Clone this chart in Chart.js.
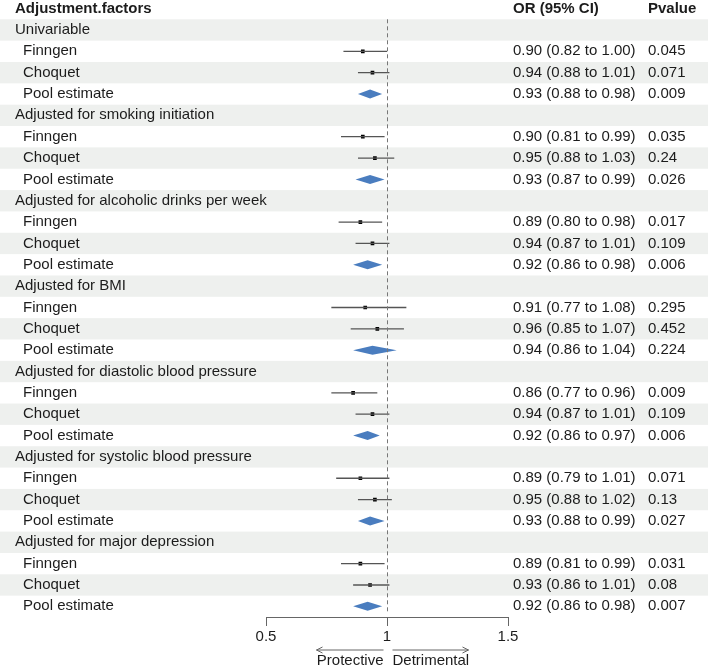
<!DOCTYPE html>
<html>
<head>
<meta charset="utf-8">
<script src="https://cdn.jsdelivr.net/npm/chart.js@4.4.1/dist/chart.umd.min.js"></script>
<style>
  html, body { margin: 0; padding: 0; background: #fff; }
  #wrap { width: 708px; height: 670px; }
</style>
</head>
<body>
<div id="wrap"><canvas id="forest" width="708" height="670"></canvas></div>
<script>
// adjustment groups, each has Finngen / Choquet / Pool estimate rows
const groups = [
    'Univariable',
    'Adjusted for smoking initiation',
    'Adjusted for alcoholic drinks per week',
    'Adjusted for BMI',
    'Adjusted for diastolic blood pressure',
    'Adjusted for systolic blood pressure',
    'Adjusted for major depression'
];
const sources = ['Finngen', 'Choquet', 'Pool estimate'];

const finngenOR = [0.90, 0.90, 0.89, 0.91, 0.86, 0.89, 0.89];
const finngenLo = [0.82, 0.81, 0.80, 0.77, 0.77, 0.79, 0.81];
const finngenHi = [1.00, 0.99, 0.98, 1.08, 0.96, 1.01, 0.99];
const finngenP  = ['0.045', '0.035', '0.017', '0.295', '0.009', '0.071', '0.031'];

const choquetOR = [0.94, 0.95, 0.94, 0.96, 0.94, 0.95, 0.93];
const choquetLo = [0.88, 0.88, 0.87, 0.85, 0.87, 0.88, 0.86];
const choquetHi = [1.01, 1.03, 1.01, 1.07, 1.01, 1.02, 1.01];
const choquetP  = ['0.071', '0.24', '0.109', '0.452', '0.109', '0.13', '0.08'];

const poolOR = [0.93, 0.93, 0.92, 0.94, 0.92, 0.93, 0.92];
const poolLo = [0.88, 0.87, 0.86, 0.86, 0.86, 0.88, 0.86];
const poolHi = [0.98, 0.99, 0.98, 1.04, 0.97, 0.99, 0.98];
const poolP  = ['0.009', '0.026', '0.006', '0.224', '0.006', '0.027', '0.007'];

const xTicks = [0.5, 1, 1.5];

const FONT = '"Liberation Sans", Arial, sans-serif';
const TEXT = '#1c1c1c';

// build the table rows
const rows = [];
groups.forEach((g, i) => {
    rows.push({ label: g, indent: false });
    rows.push({ label: sources[0], indent: true, kind: 'study', or: finngenOR[i], lo: finngenLo[i], hi: finngenHi[i], p: finngenP[i] });
    rows.push({ label: sources[1], indent: true, kind: 'study', or: choquetOR[i], lo: choquetLo[i], hi: choquetHi[i], p: choquetP[i] });
    rows.push({ label: sources[2], indent: true, kind: 'pool', or: poolOR[i], lo: poolLo[i], hi: poolHi[i], p: poolP[i] });
});
const nRows = rows.length;

const ciData = [];
const pointData = [];
rows.forEach((r, idx) => {
    if (r.kind === 'study') {
        ciData.push({ x: r.lo, y: idx }, { x: r.hi, y: idx }, { x: null, y: null });
        pointData.push({ x: r.or, y: idx });
    }
});

function fmtCI(r) {
    return r.or.toFixed(2) + ' (' + r.lo.toFixed(2) + ' to ' + r.hi.toFixed(2) + ')';
}

const tablePlugin = {
    id: 'table',
    beforeDraw(chart) {
        const ctx = chart.ctx;
        const y = chart.scales.y;
        const h = Math.abs(y.getPixelForValue(1) - y.getPixelForValue(0));
        ctx.save();
        ctx.fillStyle = '#fff';
        ctx.fillRect(0, 0, chart.width, chart.height);
        ctx.fillStyle = '#eef0ee';
        for (let i = 0; i < nRows; i += 2) {
            const cy = y.getPixelForValue(i);
            ctx.fillRect(0, cy - h / 2, chart.width, h);
        }
        ctx.restore();
    },
    afterDatasetsDraw(chart) {
        const ctx = chart.ctx;
        const x = chart.scales.x;
        const y = chart.scales.y;
        ctx.save();
        // pooled diamonds
        ctx.fillStyle = '#4a7dbf';
        rows.forEach((r, idx) => {
            if (r.kind !== 'pool') return;
            const cy = y.getPixelForValue(idx);
            ctx.beginPath();
            ctx.moveTo(x.getPixelForValue(r.lo), cy);
            ctx.lineTo(x.getPixelForValue(r.or), cy - 4.5);
            ctx.lineTo(x.getPixelForValue(r.hi), cy);
            ctx.lineTo(x.getPixelForValue(r.or), cy + 4.5);
            ctx.closePath();
            ctx.fill();
        });
        // reference line at OR = 1
        const x1 = Math.round(x.getPixelForValue(1)) + 0.5;
        ctx.strokeStyle = '#777';
        ctx.lineWidth = 1;
        ctx.setLineDash([4, 3]);
        ctx.beginPath();
        ctx.moveTo(x1, chart.chartArea.top);
        ctx.lineTo(x1, y.getPixelForValue(nRows - 0.75));
        ctx.stroke();
        ctx.setLineDash([]);

        // text columns
        ctx.fillStyle = TEXT;
        ctx.textBaseline = 'middle';
        const headY = y.getPixelForValue(-1);
        ctx.font = 'bold 15px ' + FONT;
        ctx.fillText('Adjustment.factors', 15, headY);
        ctx.fillText('OR (95% CI)', 513, headY);
        ctx.fillText('Pvalue', 648, headY);
        ctx.font = '15px ' + FONT;
        rows.forEach((r, idx) => {
            const cy = y.getPixelForValue(idx);
            ctx.fillText(r.label, r.indent ? 23 : 15, cy);
            if (r.kind) {
                ctx.fillText(fmtCI(r), 513, cy);
                ctx.fillText(r.p, 648, cy);
            }
        });

        // direction arrows under the axis
        const ay = 650;
        ctx.strokeStyle = '#666';
        ctx.lineWidth = 1;
        ctx.beginPath();
        ctx.moveTo(x1 - 4, ay); ctx.lineTo(x1 - 71, ay);
        ctx.moveTo(x1 - 65, ay - 3); ctx.lineTo(x1 - 71, ay); ctx.lineTo(x1 - 65, ay + 3);
        ctx.moveTo(x1 + 5, ay); ctx.lineTo(x1 + 81, ay);
        ctx.moveTo(x1 + 75, ay - 3); ctx.lineTo(x1 + 81, ay); ctx.lineTo(x1 + 75, ay + 3);
        ctx.stroke();
        ctx.fillStyle = TEXT;
        ctx.textAlign = 'right';
        ctx.fillText('Protective', x1 - 4, 661);
        ctx.textAlign = 'left';
        ctx.fillText('Detrimental', x1 + 5, 661);
        ctx.restore();
    }
};

new Chart(document.getElementById('forest'), {
    type: 'scatter',
    data: {
        datasets: [
            {
                label: 'CI',
                data: ciData,
                showLine: true,
                spanGaps: false,
                borderColor: '#555',
                borderWidth: 1.3,
                pointRadius: 0
            },
            {
                label: 'OR',
                data: pointData,
                pointStyle: 'rect',
                pointRadius: 2.6,
                backgroundColor: '#000',
                borderColor: '#000',
                borderWidth: 0
            }
        ]
    },
    options: {
        responsive: false,
        animation: false,
        devicePixelRatio: 1,
        layout: { padding: { left: 266, right: 200, top: 19.3, bottom: 0 } },
        plugins: {
            legend: { display: false },
            tooltip: { enabled: false }
        },
        scales: {
            x: {
                type: 'linear',
                min: 0.5,
                max: 1.5,
                afterBuildTicks: (s) => { s.ticks = xTicks.map(v => ({ value: v })); },
                afterFit: (s) => { s.height = 53; },
                grid: { drawOnChartArea: false, drawTicks: true, tickLength: 9, color: '#666' },
                border: { display: true, color: '#666', width: 1 },
                ticks: {
                    color: TEXT,
                    padding: 2,
                    font: { family: FONT, size: 15 },
                    callback: (v) => String(v)
                }
            },
            y: {
                type: 'linear',
                reverse: true,
                min: -0.5,
                max: nRows - 0.5,
                display: false
            }
        }
    },
    plugins: [tablePlugin]
});
</script>
</body>
</html>
